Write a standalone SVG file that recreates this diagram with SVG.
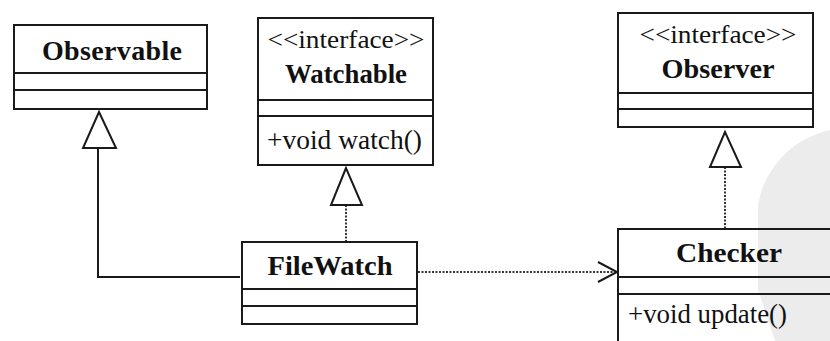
<svg xmlns="http://www.w3.org/2000/svg" width="830" height="341" viewBox="0 0 830 341">
<style>
.box{fill:none;stroke:#1a1a1a;stroke-width:2}
.ln{fill:none;stroke:#1a1a1a;stroke-width:2}
.dot{fill:none;stroke:#333;stroke-width:2;stroke-dasharray:2 1.5}
.tri{fill:#fff;stroke:#1a1a1a;stroke-width:2;stroke-linejoin:miter}
.t{font-family:"Liberation Serif","Times New Roman",serif;fill:#111}
.title{font-weight:bold;font-size:28px;text-anchor:middle}
.st{font-size:25px;text-anchor:middle}
.m{font-size:27px}
</style>
<rect width="830" height="341" fill="#fff"/>
<path d="M830 130 C795 138 765 165 758 205 L758 290 L775 341 L830 341 Z" fill="#ececec"/>
<g id="connectors">
<polyline class="ln" points="240,277 98,277 98,148"/>
<polygon class="tri" points="99,112 83,148 116,148"/>
<line class="dot" x1="346" y1="205" x2="346" y2="242"/>
<polygon class="tri" points="346,168 331,205 362,205"/>
<line class="dot" x1="725" y1="167" x2="725" y2="229"/>
<polygon class="tri" points="725,132 710,167 741,167"/>
<line class="dot" x1="418" y1="272" x2="616" y2="272"/>
<polyline class="ln" points="598,262 617,272 598,282"/>
</g>
<g id="Observable">
<rect class="box" x="14" y="25" width="193" height="84"/>
<line class="ln" x1="14" y1="73" x2="207" y2="73"/>
<line class="ln" x1="14" y1="90" x2="207" y2="90"/>
<text class="t title" x="112" y="60" textLength="140" lengthAdjust="spacing">Observable</text>
</g>
<g id="Watchable">
<rect class="box" x="258" y="18" width="175" height="147"/>
<line class="ln" x1="258" y1="100" x2="433" y2="100"/>
<line class="ln" x1="258" y1="116" x2="433" y2="116"/>
<text class="t st" x="346" y="48" textLength="157" lengthAdjust="spacingAndGlyphs">&lt;&lt;interface&gt;&gt;</text>
<text class="t title" x="346" y="83" textLength="122" lengthAdjust="spacingAndGlyphs">Watchable</text>
<text class="t m" x="267" y="149" textLength="155" lengthAdjust="spacingAndGlyphs">+void watch()</text>
</g>
<g id="Observer">
<rect class="box" x="618" y="13" width="195" height="114"/>
<line class="ln" x1="618" y1="93" x2="813" y2="93"/>
<line class="ln" x1="618" y1="109" x2="813" y2="109"/>
<text class="t st" x="718" y="43" textLength="157" lengthAdjust="spacingAndGlyphs">&lt;&lt;interface&gt;&gt;</text>
<text class="t title" x="718" y="78" textLength="113" lengthAdjust="spacingAndGlyphs">Observer</text>
</g>
<g id="FileWatch">
<rect class="box" x="242" y="242" width="175" height="82"/>
<line class="ln" x1="242" y1="289" x2="417" y2="289"/>
<line class="ln" x1="242" y1="306" x2="417" y2="306"/>
<text class="t title" x="330" y="275" textLength="125" lengthAdjust="spacingAndGlyphs">FileWatch</text>
</g>
<g id="Checker">
<polyline class="ln" points="832,229 618,229 618,343"/>
<line class="ln" x1="618" y1="277" x2="832" y2="277"/>
<line class="ln" x1="618" y1="294" x2="832" y2="294"/>
<text class="t title" x="729" y="262" textLength="106" lengthAdjust="spacingAndGlyphs">Checker</text>
<text class="t m" x="628" y="323" textLength="159" lengthAdjust="spacingAndGlyphs">+void update()</text>
</g>
</svg>
